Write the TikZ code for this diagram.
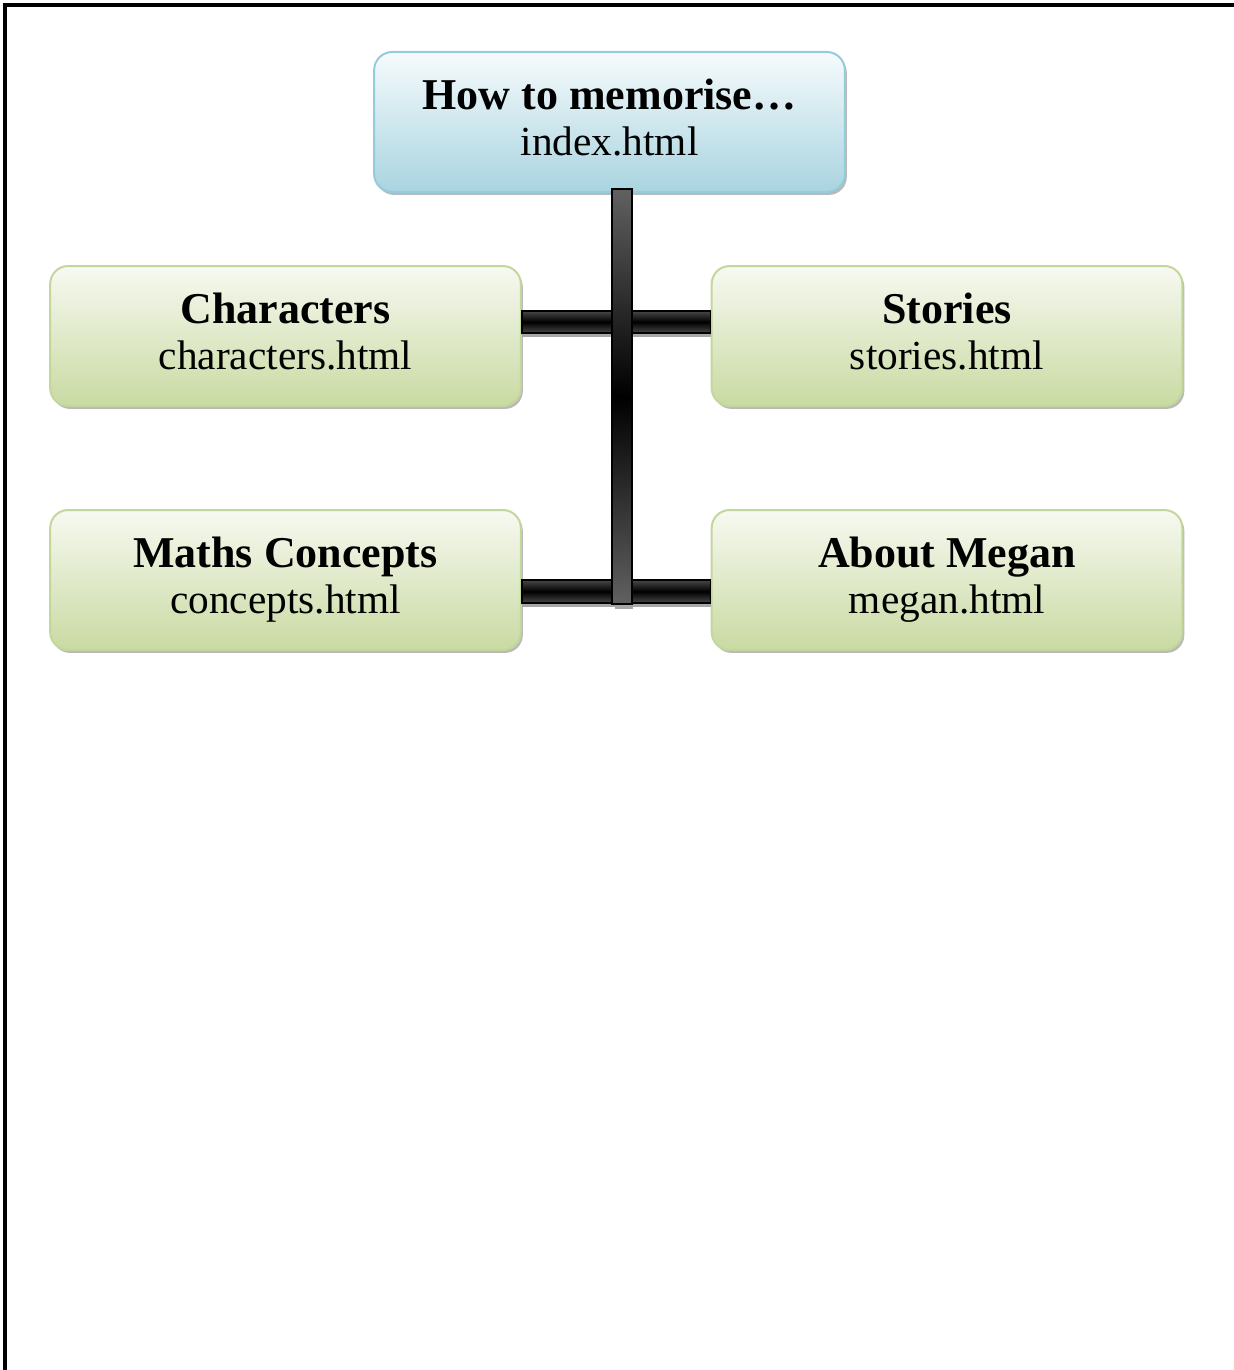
\documentclass[tikz,border=0pt]{standalone}
\usepackage{fontspec}
\setmainfont{Liberation Serif}
\usepackage{tikz}
\usetikzlibrary{shadows}

\definecolor{blueTop}{HTML}{F6FBFC}
\definecolor{blueBot}{HTML}{A9D4E0}
\definecolor{blueLine}{HTML}{93CDDC}
\definecolor{greenTop}{HTML}{F7F9F1}
\definecolor{greenBot}{HTML}{C9DAA2}
\definecolor{greenLine}{HTML}{C3D69B}

\begin{document}
\begin{tikzpicture}[
        x=0.75pt, y=-0.75pt,
        pagebox/.style={rectangle, rounded corners=13.5pt, minimum width=353pt, minimum height=105pt,
            line width=1.5pt, align=center, inner sep=0pt, text depth=6.75pt,
            font=\fontsize{33}{34.5}\selectfont,
            drop shadow={shadow xshift=1.5pt, shadow yshift=-2.2pt, opacity=0.5, fill=black!55}},
        homebox/.style={pagebox, draw=blueLine, top color=blueTop, bottom color=blueBot},
        subbox/.style={pagebox, draw=greenLine, top color=greenTop, bottom color=greenBot},
        hbar/.style={draw=black, line width=1pt, top color=black!72, bottom color=black!72, middle color=black},
        vbar/.style={draw=black, line width=1.5pt, top color=black!62, bottom color=black!62, middle color=black}
        ]
            \useasboundingbox (0,0) rectangle (1234,1370);
            \draw[line width=2.3pt] (5,1400) -- (5,5) -- (1260,5);

            \node[homebox] (idx) at (609.5,122) {{\bfseries How to memorise\ldots}\\{\fontsize{31}{34.5}\selectfont index.html}};
            \node[subbox] (chars) at (285.5,336) {{\bfseries Characters}\\{\fontsize{31}{34.5}\selectfont characters.html}};
            \node[subbox] (stories) at (947,336) {{\bfseries Stories}\\{\fontsize{31}{34.5}\selectfont stories.html}};
            \node[subbox] (maths) at (285.5,580) {{\bfseries Maths Concepts}\\{\fontsize{31}{34.5}\selectfont concepts.html}};
            \node[subbox] (megan) at (947,580) {{\bfseries About Megan}\\{\fontsize{31}{34.5}\selectfont megan.html}};

            \coordinate (vbot) at (622,604);
            \coordinate (vtop) at ([yshift=3pt]idx.south -| vbot);

            % shadows under the bars
            \fill[black!35] ([yshift=2.5pt]chars.east) rectangle ([yshift=-0.75pt]stories.west);
            \fill[black!35] ([yshift=-17pt]maths.east) rectangle ([yshift=-20.25pt]megan.west);
            \fill[black!35] ([xshift=-5pt]vbot) rectangle ([xshift=8pt,yshift=-4pt]vbot);

            \path[hbar] ([yshift=18.75pt]chars.east) rectangle ([yshift=2.25pt]stories.west);
            \path[hbar] ([yshift=0pt]maths.east) rectangle ([yshift=-17.25pt]megan.west);
            \path[vbar] ([xshift=-7.5pt]vtop) rectangle ([xshift=7.5pt]vbot);

        \end{tikzpicture}
\end{document}
